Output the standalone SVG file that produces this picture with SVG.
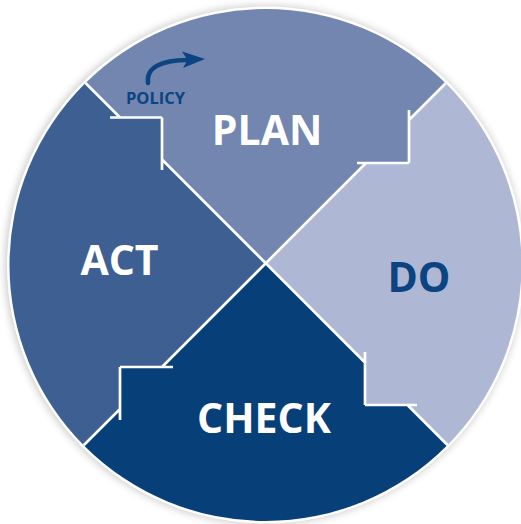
<svg xmlns="http://www.w3.org/2000/svg" width="521" height="524" viewBox="0 0 521 524">
  <style>
    .lbl { font-family: "Open Sans", "Liberation Sans", sans-serif; font-weight: 700; text-anchor: middle; }
    .big { font-size: 41px; }
    .white { fill: #ffffff; }
    .navy { fill: #0b4480; }
    .sep { stroke: #ffffff; stroke-width: 2.7; fill: none; stroke-linecap: butt; }
  </style>
  <defs>
    <clipPath id="disc">
      <circle cx="265.5" cy="265" r="256"/>
    </clipPath>
    <filter id="shadow" x="-10%" y="-10%" width="120%" height="120%">
      <feGaussianBlur stdDeviation="4"/>
    </filter>
  </defs>
  <rect width="521" height="524" fill="#ffffff"/>
  <circle cx="264.5" cy="265" r="259" fill="#000000" opacity="0.22" filter="url(#shadow)"/>
  <circle cx="265.5" cy="265" r="258.5" fill="#ffffff"/>
  <g clip-path="url(#disc)">
    <g id="plan">
      <polygon points="-200,-202.5 120,117.5 162,117.5 162,159.5 265.5,263.5 366,163 409,163 409,120 700,-171" fill="#7286b0"/>
      <text class="lbl big white" x="267" y="145">PLAN</text>
    </g>
    <g id="do">
      <polygon points="265.5,263.5 366,163 409,163 409,120 700,-171 700,697.5 407.5,405 365,405 365,362.5" fill="#aeb8d4"/>
      <text class="lbl big navy" x="419" y="292">DO</text>
    </g>
    <g id="check">
      <polygon points="265.5,263.5 365,362.5 365,405 407.5,405 700,697.5 -200,729 120,409 120,367 162,367" fill="#073f78"/>
      <text class="lbl big white" x="264" y="433">CHECK</text>
    </g>
    <g id="act">
      <polygon points="265.5,263.5 162,367 120,367 120,409 -200,729 -200,-202.5 120,117.5 162,117.5 162,159.5" fill="#3e5f92"/>
      <text class="lbl big white" x="119.5" y="275">ACT</text>
    </g>
    <g id="connectors">
      <path class="sep" d="M-10,-12.5 L120,117.5 M110,117.5 L162,117.5 M162,117.5 L162,170 M162,159.5 L365,362.5 M365,352 L365,405 M365,405 L417,405 M407.5,405 L600,597.5"/>
      <path class="sep" d="M600,-71 L409,120 M409,110 L409,163 M409,163 L357,163 M366,163 L162,367 M173,367 L120,367 M120,367 L120,420 M120,409 L-80,609"/>
    </g>
  </g>
  <g id="policy">
    <path d="M148,83 C146,68 160,60 188,60" fill="none" stroke="#0b4480" stroke-width="4.5" stroke-linecap="round"/>
    <path d="M182,51.5 L205,59 L183,68 L187.5,60 Z" fill="#0b4480"/>
    <text class="lbl navy" x="155.5" y="104" font-size="16.5">POLICY</text>
  </g>
</svg>
